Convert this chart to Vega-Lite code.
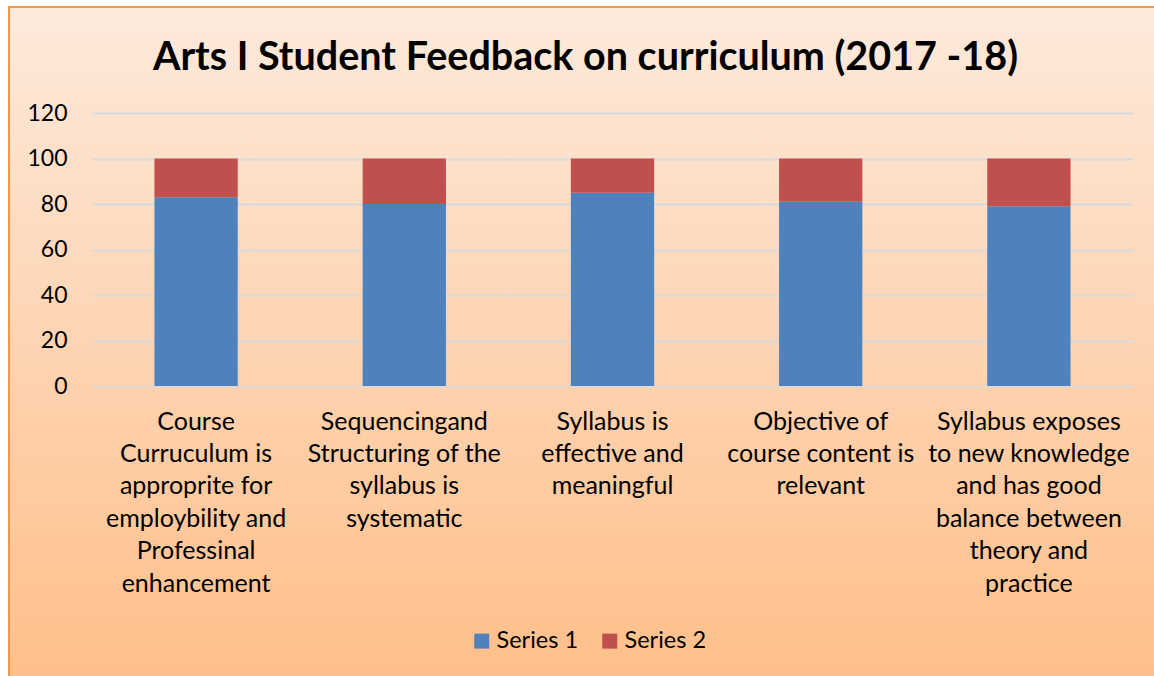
{
  "$schema": "https://vega.github.io/schema/vega-lite/v6.json",
  "width": 1145,
  "height": 669,
  "autosize": {"type": "none"},
  "padding": {"left": 9, "top": 7, "right": 0, "bottom": 0},
  "background": "#ffffff",
  "title": {
    "text": "Arts I Student Feedback on curriculum (2017 -18)",
    "font": "Lato",
    "fontSize": 39.5,
    "fontWeight": "bold",
    "color": "#000000",
    "anchor": "middle",
    "frame": "group",
    "dx": 4,
    "offset": -71
  },
  "data": {
    "values": [
      {"category": "Course\nCurruculum is\napproprite for\nemploybility and\nProfessinal\nenhancement", "series": "Series 1", "value": 83},
      {"category": "Course\nCurruculum is\napproprite for\nemploybility and\nProfessinal\nenhancement", "series": "Series 2", "value": 17},
      {"category": "Sequencingand\nStructuring of the\nsyllabus is\nsystematic", "series": "Series 1", "value": 80},
      {"category": "Sequencingand\nStructuring of the\nsyllabus is\nsystematic", "series": "Series 2", "value": 20},
      {"category": "Syllabus is\neffective and\nmeaningful", "series": "Series 1", "value": 85},
      {"category": "Syllabus is\neffective and\nmeaningful", "series": "Series 2", "value": 15},
      {"category": "Objective of\ncourse content is\nrelevant", "series": "Series 1", "value": 81},
      {"category": "Objective of\ncourse content is\nrelevant", "series": "Series 2", "value": 19},
      {"category": "Syllabus exposes\nto new knowledge\nand has good\nbalance between\ntheory and\npractice", "series": "Series 1", "value": 79},
      {"category": "Syllabus exposes\nto new knowledge\nand has good\nbalance between\ntheory and\npractice", "series": "Series 2", "value": 21}
    ]
  },
  "mark": {"type": "bar"},
  "encoding": {
    "x": {
      "field": "category",
      "type": "nominal",
      "sort": null,
      "scale": {"range": [83, 1124], "paddingInner": 0.6, "paddingOuter": 0.3},
      "axis": {
        "title": null,
        "offset": -292,
        "labelAngle": 0,
        "labelExpr": "split(datum.label, '\\n')",
        "labelFont": "Lato",
        "labelFontSize": 25,
        "labelColor": "#000000",
        "labelLineHeight": 32.4,
        "labelBaseline": "top",
        "labelPadding": 25,
        "labelLimit": 0,
        "domain": false,
        "ticks": false,
        "grid": false
      }
    },
    "y": {
      "field": "value",
      "type": "quantitative",
      "stack": "zero",
      "scale": {"domain": [0, 120], "nice": false, "range": [379, 106]},
      "axis": {
        "title": null,
        "offset": -83,
        "values": [0, 20, 40, 60, 80, 100, 120],
        "labelFont": "Lato",
        "labelFontSize": 23,
        "labelColor": "#000000",
        "labelPadding": 25,
        "domain": false,
        "ticks": false,
        "grid": true,
        "gridColor": "#d9d9d9",
        "gridWidth": 2
      }
    },
    "color": {
      "field": "series",
      "type": "nominal",
      "scale": {"domain": ["Series 1", "Series 2"], "range": ["#4f81bd", "#c0504d"]},
      "legend": {
        "title": null,
        "orient": "none",
        "direction": "horizontal",
        "legendX": 461,
        "legendY": 622,
        "symbolType": "square",
        "symbolSize": 225,
        "symbolStrokeWidth": 0,
        "labelFont": "Lato",
        "labelFontSize": 23.5,
        "labelColor": "#000000",
        "columnPadding": 19,
        "labelOffset": 3
      }
    },
    "order": {"field": "series", "sort": "ascending"}
  },
  "config": {
    "view": {
      "fill": {
        "gradient": "linear",
        "x1": 0, "y1": 0, "x2": 0, "y2": 1,
        "stops": [
          {"offset": 0, "color": "#fdeadc"},
          {"offset": 1, "color": "#ffbf8a"}
        ]
      },
      "stroke": "#f79646",
      "strokeWidth": 2,
      "strokeDash": [1145, 1814, 669, 1]
    }
  }
}
